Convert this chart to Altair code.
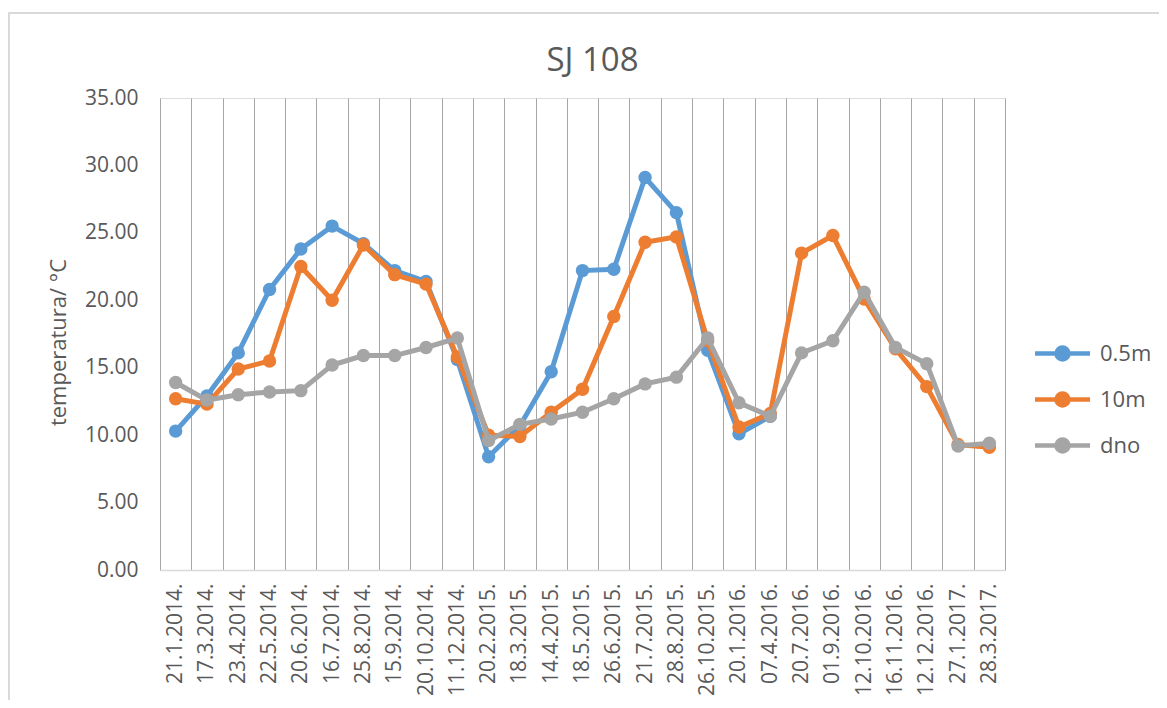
import altair as alt
import pandas as pd

dates = ["21.1.2014.", "17.3.2014.", "23.4.2014.", "22.5.2014.", "20.6.2014.",
         "16.7.2014.", "25.8.2014.", "15.9.2014.", "20.10.2014.", "11.12.2014.",
         "20.2.2015.", "18.3.2015.", "14.4.2015.", "18.5.2015.", "26.6.2015.",
         "21.7.2015.", "28.8.2015.", "26.10.2015.", "20.1.2016.", "07.4.2016.",
         "20.7.2016.", "01.9.2016.", "12.10.2016.", "16.11.2016.", "12.12.2016.",
         "27.1.2017.", "28.3.2017."]

s_05m = [10.3, 12.9, 16.1, 20.8, 23.8, 25.5, 24.2, 22.2, 21.4, 15.6,
         8.4, 10.7, 14.7, 22.2, 22.3, 29.1, 26.5, 16.3, 10.1, 11.4,
         None, None, None, None, None, None, None]
s_10m = [12.7, 12.3, 14.9, 15.5, 22.5, 20.0, 24.1, 21.9, 21.2, 15.8,
         10.0, 9.9, 11.7, 13.4, 18.8, 24.3, 24.7, 17.0, 10.6, 11.6,
         23.5, 24.8, 20.1, 16.4, 13.6, 9.3, 9.1]
s_dno = [13.9, 12.6, 13.0, 13.2, 13.3, 15.2, 15.9, 15.9, 16.5, 17.2,
         9.6, 10.8, 11.2, 11.7, 12.7, 13.8, 14.3, 17.2, 12.4, 11.4,
         16.1, 17.0, 20.6, 16.5, 15.3, 9.2, 9.4]

series_names = ["0.5m", "10m", "dno"]
series_values = [s_05m, s_10m, s_dno]
colors = ["#5B9BD5", "#ED7D31", "#A5A5A5"]

rows = []
for name, vals in zip(series_names, series_values):
    for d, v in zip(dates, vals):
        if v is not None:
            rows.append({"date": d, "series": name, "temp": v})
df = pd.DataFrame(rows)

FONT = "Open Sans"
TXT = "#595959"

legend_path = "M-1.375,0L1.375,0M0.3,0A0.3,0.3,0,1,1,-0.3,0A0.3,0.3,0,1,1,0.3,0Z"

scale = alt.Scale(domain=series_names, range=colors)
stroke_enc = alt.Stroke("series:N", scale=scale, legend=alt.Legend(title=None))
fill_enc = alt.Fill("series:N", scale=scale, legend=alt.Legend(title=None))

x_enc = alt.X(
    "date:N", sort=dates, bandPosition=0.5,
    scale=alt.Scale(type="band", paddingInner=0, paddingOuter=0),
    axis=alt.Axis(title=None, labelAngle=-90, labelFont=FONT, labelFontSize=21,
                  labelColor=TXT, labelPadding=13, ticks=False, tickBand="extent",
                  grid=True, gridColor="#a6a6a6", gridWidth=1,
                  domainColor="#d9d9d9", domainWidth=1.5),
)
y_enc = alt.Y(
    "temp:Q",
    scale=alt.Scale(domain=[0, 35], nice=False),
    axis=alt.Axis(title="temperatura/ °C", values=[0, 5, 10, 15, 20, 25, 30, 35],
                  format=".2f", grid=False, domain=False, ticks=False,
                  labelFont=FONT, labelFontSize=21, labelColor=TXT, labelPadding=22,
                  titleFont=FONT, titleFontSize=22, titleFontWeight="normal",
                  titleColor=TXT, titlePadding=14, titleY=244),
)

base = alt.Chart(df)

frame = alt.Chart(pd.DataFrame({"a": [0]})).mark_rect(
    fillOpacity=0, stroke="#d9d9d9", strokeWidth=2
).encode(x=alt.value(-151), x2=alt.value(1300), y=alt.value(-85), y2=alt.value(900))

layers = [frame]
for name in series_names:
    sub = base.transform_filter(alt.datum.series == name)
    layers.append(sub.mark_line(strokeWidth=5).encode(x=x_enc, y=y_enc, stroke=stroke_enc))
    layers.append(sub.mark_circle(size=180, opacity=1, strokeWidth=0).encode(
        x=x_enc, y=y_enc, fill=fill_enc, stroke=stroke_enc))

chart = alt.layer(*layers).properties(
    width=845, height=472,
    title=alt.TitleParams(text="SJ 108", font=FONT, fontSize=33, fontWeight="normal",
                          color=TXT, anchor="middle", frame="group", dx=10,
                          offset=0, dy=92, baseline="alphabetic"),
    autosize=alt.AutoSizeParams(type="none"),
    padding={"left": 152, "top": 90, "right": 154, "bottom": 130},
).configure_view(stroke=None).configure(background="white").configure_legend(
    orient="none", legendX=880, legendY=233,
    symbolType=legend_path, symbolSize=1600, symbolStrokeWidth=4.5, symbolOpacity=1,
    labelFont=FONT, labelFontSize=22, labelColor=TXT, labelOffset=15,
    rowPadding=8, padding=0,
)

chart.save("out.html", embed_options={"renderer": "svg", "actions": False})
